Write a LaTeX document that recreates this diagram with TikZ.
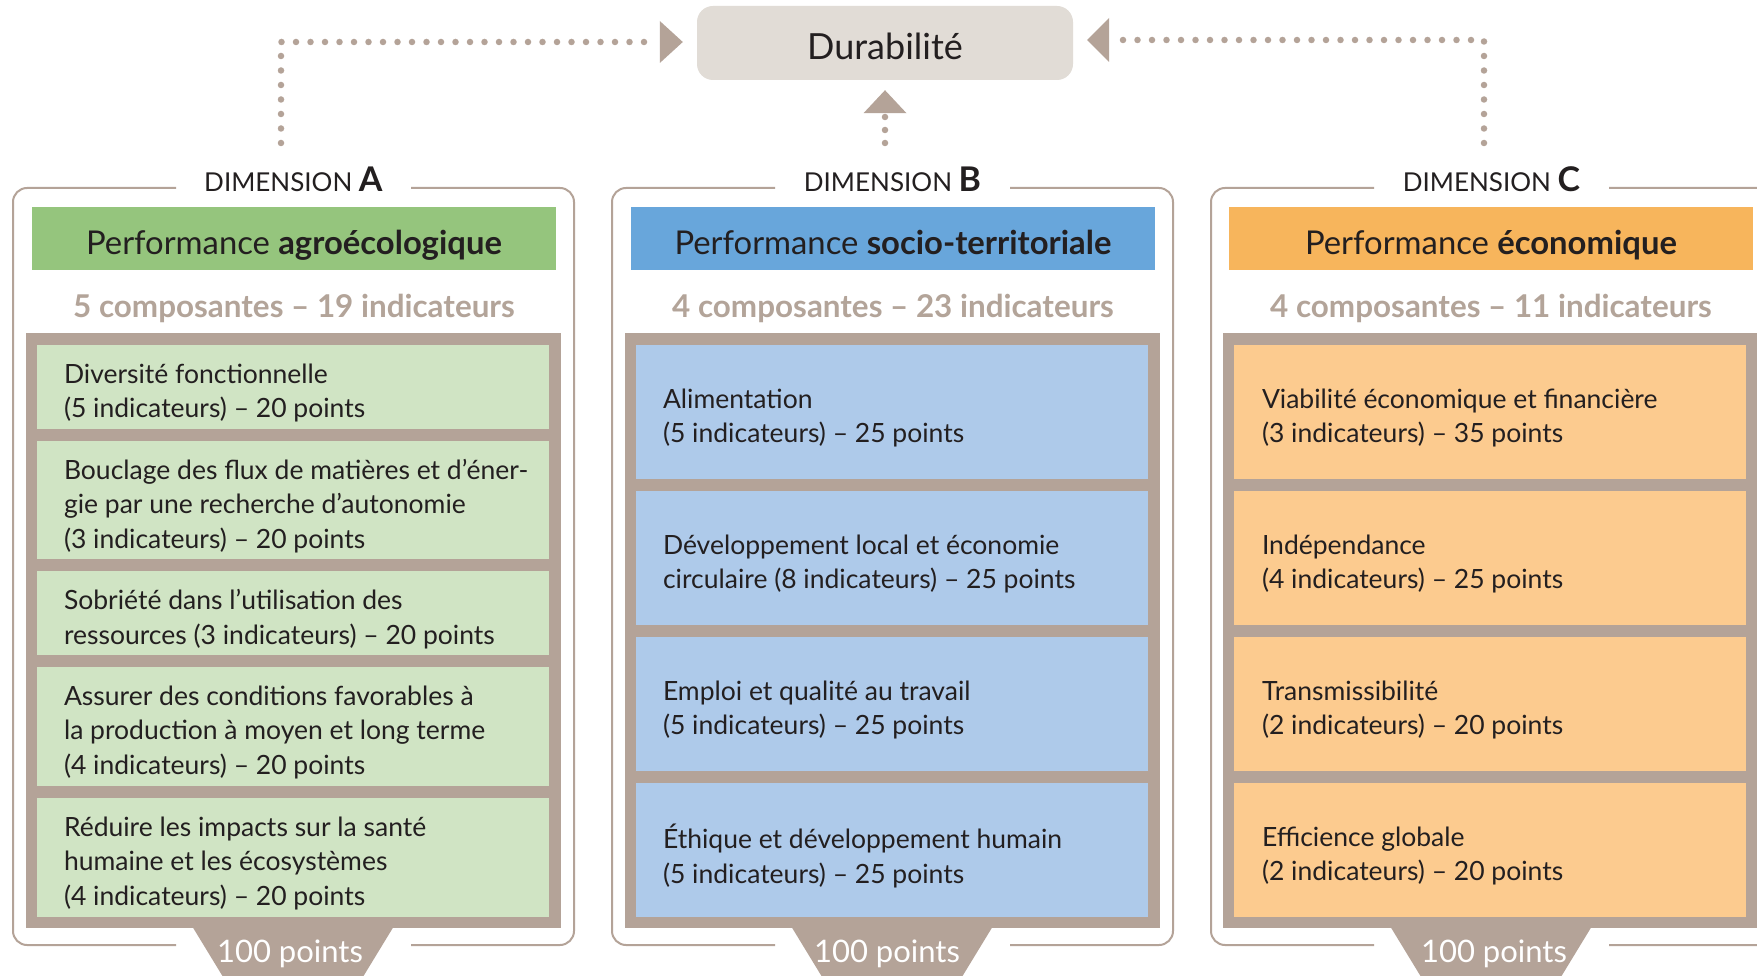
\documentclass[tikz,border=0pt]{standalone}
\usepackage{fontspec}
\setmainfont{Lato}
\usetikzlibrary{calc}
\definecolor{frm}{HTML}{B4A398}
\definecolor{subc}{HTML}{B3A499}
\definecolor{durc}{HTML}{E1DCD6}
\definecolor{gH}{HTML}{95C57D}
\definecolor{gL}{HTML}{D0E4C4}
\definecolor{bH}{HTML}{68A6DB}
\definecolor{bL}{HTML}{AECAEA}
\definecolor{oH}{HTML}{F7B55C}
\definecolor{oL}{HTML}{FCCB8F}
\definecolor{ink}{HTML}{231F20}
\tikzset{
  dotline/.style={draw=frm, line width=6.5pt, line cap=round, dash pattern=on 0pt off 14.5pt},
  arrowtip/.style={fill=frm},
  outerframe/.style={draw=frm, line width=2pt, rounded corners=14pt},
  grayframe/.style={fill=frm},
  hdr/.style={minimum width=524pt, minimum height=63pt, inner sep=0pt, text height=32pt, text depth=0pt, text=ink, font=\fontsize{32.8}{32.8}\selectfont},
  subt/.style={anchor=base, inner sep=0pt, text=subc, font=\bfseries\fontsize{31.4}{31.4}\selectfont},
  ttl/.style={anchor=base, inner sep=0pt, text=ink, font=\fontsize{26}{26}\selectfont},
  cbox/.style={minimum width=512pt, inner sep=0pt},
  btext/.style={anchor=west, inner sep=0pt, align=left, text=ink, yshift=-6pt, font=\fontsize{26.5}{34.7}\selectfont},
  pts/.style={anchor=base, inner sep=0pt, text=white, font=\fontsize{31}{31}\selectfont},
  durbox/.style={fill=durc, rounded corners=16pt, minimum width=376pt, minimum height=74pt, inner sep=0pt, text height=33pt, text depth=0pt, text=ink, font=\fontsize{36}{36}\selectfont}
}
\newcommand\dimletter[1]{\textbf{\fontsize{34}{34}\selectfont #1}}
\begin{document}
\begin{tikzpicture}[x=1pt,y=-1pt]
\useasboundingbox (0,0) rectangle (1757,976);
\clip (0,0) rectangle (1757,976);
\fill[white] (0,0) rectangle (1757,976);

% Durabilite
\node[durbox] (dur) at (885,43) {Durabilité};

% ---------- frames ----------
% A
\draw[outerframe] (176,188) -- (13,188) -- (13,945) -- (176,945);
\draw[outerframe] (411,945) -- (574,945) -- (574,188) -- (411,188);
% B
\draw[outerframe] (775,188) -- (612,188) -- (612,945) -- (775,945);
\draw[outerframe] (1010,945) -- (1173,945) -- (1173,188) -- (1010,188);
% C
\draw[outerframe] (1374,188) -- (1211,188) -- (1211,945) -- (1374,945);
\draw[outerframe] (1609,945) -- (1772,945) -- (1772,188) -- (1609,188);

% gray frames and tabs
\fill[grayframe] (26,333) rectangle (561,928);
\fill[grayframe] (625,333) rectangle (1160,928);
\fill[grayframe] (1223,333) rectangle (1760,928);
\fill[grayframe, rounded corners=8pt] (192,926) -- (231,990) -- (355,990) -- (394,926);
\fill[grayframe, rounded corners=8pt] (791,926) -- (830,990) -- (954,990) -- (993,926);
\fill[grayframe, rounded corners=8pt] (1390,926) -- (1429,990) -- (1553,990) -- (1592,926);

% titles
\node[ttl] (tA) at (293.5,192) {DIMENSION \dimletter{A}};
\node[ttl] (tB) at (892.5,192) {DIMENSION \dimletter{B}};
\node[ttl] (tC) at (1491.5,192) {DIMENSION \dimletter{C}};

% headers
\node[hdr, fill=gH] (hA) at (294,238.5) {Performance \textbf{agroécologique}};
\node[hdr, fill=bH] (hB) at (893,238.5) {Performance \textbf{socio-territoriale}};
\node[hdr, fill=oH] (hC) at (1491,238.5) {Performance \textbf{économique}};

% subtitles
\node[subt] (sA) at (294,318) {5 composantes – 19 indicateurs};
\node[subt] (sB) at (893,318) {4 composantes – 23 indicateurs};
\node[subt] (sC) at (1491,318) {4 composantes – 11 indicateurs};

% column A boxes
\node[cbox, fill=gL, minimum height=84pt] (A1) at (293,387) {};
\node[cbox, fill=gL, minimum height=118pt] (A2) at (293,500) {};
\node[cbox, fill=gL, minimum height=84pt] (A3) at (293,613) {};
\node[cbox, fill=gL, minimum height=119pt] (A4) at (293,726.5) {};
\node[cbox, fill=gL, minimum height=119pt] (A5) at (293,857.5) {};
\node[btext] (A1t) at ([xshift=27pt]A1.west) {Diversité fonctionnelle\\(5 indicateurs) – 20 points};
\node[btext] (A2t) at ([xshift=27pt]A2.west) {Bouclage des flux de matières et d’éner-\\gie par une recherche d’autonomie\\(3 indicateurs) – 20 points};
\node[btext] (A3t) at ([xshift=27pt]A3.west) {Sobriété dans l’utilisation des\\ressources (3 indicateurs) – 20 points};
\node[btext] (A4t) at ([xshift=27pt]A4.west) {Assurer des conditions favorables à\\la production à moyen et long terme\\(4 indicateurs) – 20 points};
\node[btext] (A5t) at ([xshift=27pt]A5.west) {Réduire les impacts sur la santé\\humaine et les écosystèmes\\(4 indicateurs) – 20 points};

% column B boxes
\node[cbox, fill=bL, minimum height=134pt] (B1) at (892,412) {};
\node[cbox, fill=bL, minimum height=134pt] (B2) at (892,558) {};
\node[cbox, fill=bL, minimum height=134pt] (B3) at (892,704) {};
\node[cbox, fill=bL, minimum height=134pt] (B4) at (892,850) {};
\node[btext] (B1t) at ([xshift=27pt]B1.west) {Alimentation\\(5 indicateurs) – 25 points};
\node[btext] (B2t) at ([xshift=27pt]B2.west) {Développement local et économie\\circulaire (8 indicateurs) – 25 points};
\node[btext] (B3t) at ([xshift=27pt]B3.west) {Emploi et qualité au travail\\(5 indicateurs) – 25 points};
\node[btext] (B4t) at ([xshift=27pt]B4.west) {Éthique et développement humain\\(5 indicateurs) – 25 points};

% column C boxes
\node[cbox, fill=oL, minimum height=134pt] (C1) at (1490,412) {};
\node[cbox, fill=oL, minimum height=134pt] (C2) at (1490,558) {};
\node[cbox, fill=oL, minimum height=134pt] (C3) at (1490,704) {};
\node[cbox, fill=oL, minimum height=134pt] (C4) at (1490,850) {};
\node[btext] (C1t) at ([xshift=28pt]C1.west) {Viabilité économique et financière\\(3 indicateurs) – 35 points};
\node[btext] (C2t) at ([xshift=28pt]C2.west) {Indépendance\\(4 indicateurs) – 25 points};
\node[btext] (C3t) at ([xshift=28pt]C3.west) {Transmissibilité\\(2 indicateurs) – 20 points};
\node[btext] (C4t) at ([xshift=28pt]C4.west) {Efficience globale\\(2 indicateurs) – 20 points};

% points tabs
\node[pts] (pA) at (290,962) {100 points};
\node[pts] (pB) at (887,962) {100 points};
\node[pts] (pC) at (1494,962) {100 points};

% ---------- connectors ----------
\coordinate (startA) at (281,143);
\coordinate (startB) at (885,143);
\coordinate (startC) at (1484,143);
\coordinate (baseL) at ($(dur.west)+(-37,-1)$);
\coordinate (baseR) at ($(dur.east)+(36,-3)$);
\coordinate (baseM) at ($(dur.south)+(0,33)$);
\draw[dotline] (startA) |- ([xshift=-4pt]baseL);
\draw[dotline] (startC) |- ([xshift=4pt]baseR);
\draw[dotline, dash pattern=on 0pt off 13pt] (startB) -- ([yshift=4pt]baseM);
\fill[arrowtip] ($(baseL)+(0,-21)$) -- ($(baseL)+(23,0)$) -- ($(baseL)+(0,21)$) -- cycle;
\fill[arrowtip] ($(baseR)+(0,-22)$) -- ($(baseR)+(-22,0)$) -- ($(baseR)+(0,22)$) -- cycle;
\fill[arrowtip] ($(baseM)+(-21.5,0)$) -- ($(baseM)+(0,-23)$) -- ($(baseM)+(21.5,0)$) -- cycle;
\end{tikzpicture}
\end{document}
